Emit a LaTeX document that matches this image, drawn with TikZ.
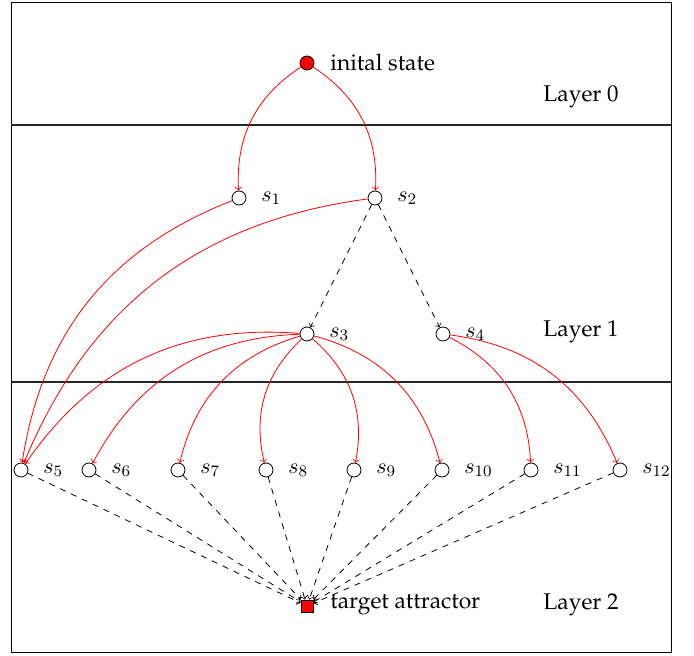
\documentclass[tikz,border=0pt]{standalone}
\usepackage[T1]{fontenc}
\usepackage{palatino}
\begin{document}
\begin{tikzpicture}[x=0.5pt,y=0.5pt,
  every node/.style={font=\fontsize{11.4}{13.5}\selectfont},
  st/.style={circle,draw,inner sep=0pt,minimum size=7pt},
  init/.style={circle,draw,fill=red,inner sep=0pt,minimum size=7pt},
  targ/.style={rectangle,draw,fill=red,inner sep=0pt,minimum size=6pt},
  lab/.style={anchor=west,inner sep=0pt},
  redarr/.style={->,red},
  dasharr/.style={->,dashed}]
\useasboundingbox (0,0) rectangle (694,-656);
\draw (11,-2) rectangle (671,-652);
\coordinate (l0a) at (11,-125); \coordinate (l0b) at (671,-125);
\coordinate (l1a) at (11,-382); \coordinate (l1b) at (671,-382);
\draw[line width=0.6pt,black!85] (l0a) -- (l0b);
\draw[line width=0.6pt,black!85] (l1a) -- (l1b);
\node (L0) at (581,-97) {Layer 0};
\node (L1) at (581,-332) {Layer 1};
\node (L2) at (581,-605) {Layer 2};
% nodes
\node[init] (i) at (307,-63) {};
\node[lab] (il) at (330,-63) {inital state};
\node[st] (s1) at (239,-198) {}; \node[lab] (s1l) at (261,-198) {$s_1$};
\node[st] (s2) at (375,-198) {}; \node[lab] (s2l) at (397,-198) {$s_2$};
\node[st] (s3) at (307,-334) {}; \node[lab] (s3l) at (329,-334) {$s_3$};
\node[st] (s4) at (443,-334) {}; \node[lab] (s4l) at (465,-334) {$s_4$};
\node[st] (s5) at (21,-470) {}; \node[lab] (s5l) at (43,-470) {$s_5$};
\node[st] (s6) at (89,-470) {}; \node[lab] (s6l) at (111,-470) {$s_6$};
\node[st] (s7) at (178,-470) {}; \node[lab] (s7l) at (200,-470) {$s_7$};
\node[st] (s8) at (266,-470) {}; \node[lab] (s8l) at (288,-470) {$s_8$};
\node[st] (s9) at (354,-470) {}; \node[lab] (s9l) at (376,-470) {$s_9$};
\node[st] (s10) at (442,-470) {}; \node[lab] (s10l) at (464,-470) {$s_{10}$};
\node[st] (s11) at (531,-470) {}; \node[lab] (s11l) at (553,-470) {$s_{11}$};
\node[st] (s12) at (620,-470) {}; \node[lab] (s12l) at (642,-470) {$s_{12}$};
\node[targ] (t) at (307,-606) {};
\node[lab] (tl) at (330,-605) {target attractor};
% red arrows
\draw[redarr] (i) to[bend right] (s1);
\draw[redarr] (i) to[bend left] (s2);
\draw[redarr] (s1) to[bend right] (s5);
\draw[redarr] (s2) to[bend right] (s5);
\draw[redarr] (s3) to[bend right] (s5);
\draw[redarr] (s3) to[bend right] (s6);
\draw[redarr] (s3) to[bend right] (s7);
\draw[redarr] (s3) to[bend right] (s8);
\draw[redarr] (s3) to[bend left] (s9);
\draw[redarr] (s3) to[bend left] (s10);
\draw[redarr] (s4) to[bend left] (s11);
\draw[redarr] (s4) to[bend left] (s12);
% dashed arrows
\draw[dasharr] (s2) -- (s3);
\draw[dasharr] (s2) -- (s4);
\foreach \k in {5,...,12} \draw[dasharr] (s\k) -- (t);
\end{tikzpicture}
\end{document}
